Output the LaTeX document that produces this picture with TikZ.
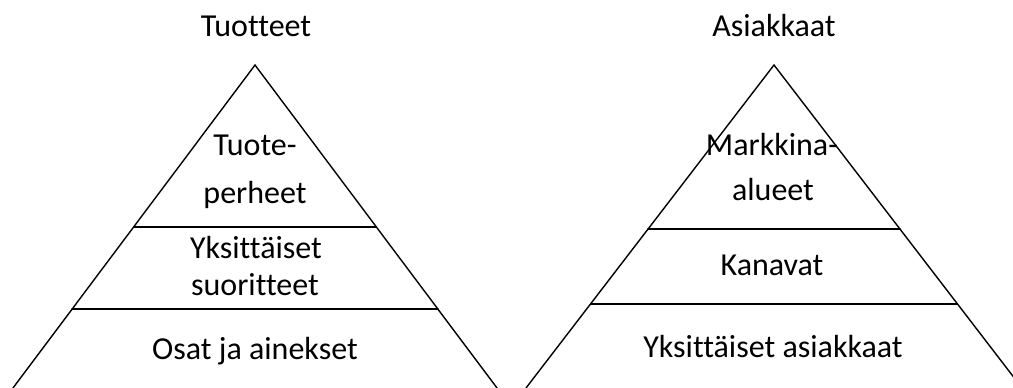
\documentclass[tikz,border=0pt]{standalone}
\usepackage{fontspec}
\setmainfont{Carlito}[Ligatures=NoCommon]
\begin{document}
\begin{tikzpicture}[x=1pt,y=-1pt,
  lbl/.style={anchor=base,inner sep=0pt,font=\fontsize{32}{38}\selectfont},
  edge/.style={line width=1.4pt,line cap=round,line join=miter}]
\useasboundingbox (0,0) rectangle (1013,388);
\begin{scope}
\clip (0,0) rectangle (1013,388);
% left pyramid
\coordinate (LA) at (255,65);
\coordinate (LL) at (13,388);
\coordinate (LR) at (497,388);
\draw[edge] (LL) -- (LA) -- (LR);
\coordinate (L1a) at (134,227); \coordinate (L1b) at (376,227);
\coordinate (L2a) at (72,309);  \coordinate (L2b) at (438,309);
\draw[edge] (L1a) -- (L1b);
\draw[edge] (L2a) -- (L2b);
% right pyramid
\coordinate (RA) at (774,65);
\coordinate (RL) at (526,388);
\coordinate (RR) at (1022,388);
\draw[edge] (RL) -- (RA) -- (RR);
\coordinate (R1a) at (648,229); \coordinate (R1b) at (900,229);
\coordinate (R2a) at (591,304); \coordinate (R2b) at (957,304);
\draw[edge] (R1a) -- (R1b);
\draw[edge] (R2a) -- (R2b);
\end{scope}
% labels
\node[lbl] (t1) at (256,36) {Tuotteet};
\node[lbl] (t2) at (774,36) {Asiakkaat};
\node[lbl] (l1a) at (255,155) {Tuote-};
\node[lbl] (l1b) at (255,203) {perheet};
\node[lbl] (l2a) at (256,258) {Yksittäiset};
\node[lbl] (l2b) at (255,295) {suoritteet};
\node[lbl] (l3) at (255,359) {Osat ja ainekset};
\node[lbl] (r1a) at (772,155) {Markkina-};
\node[lbl] (r1b) at (773,200) {alueet};
\node[lbl] (r2) at (772,275) {Kanavat};
\node[lbl] (r3) at (773,357) {Yksittäiset asiakkaat};
\end{tikzpicture}
\end{document}
